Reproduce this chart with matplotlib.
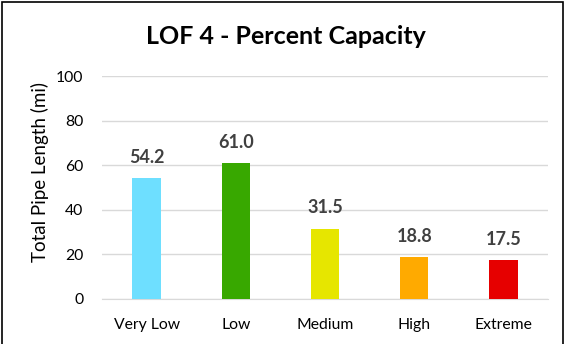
import matplotlib
matplotlib.use("Agg")
import matplotlib.pyplot as plt
from matplotlib.patches import Rectangle

categories = ["Very Low", "Low", "Medium", "High", "Extreme"]
values = [54.2, 61.0, 31.5, 18.8, 17.5]
colors = ["#6EDFFF", "#38A800", "#E6E600", "#FFAA00", "#E60000"]
yticks = [0, 20, 40, 60, 80, 100]

plt.rcParams['font.family'] = ['Lato', 'DejaVu Sans']

fig = plt.figure(figsize=(5.72, 3.44), dpi=100)
ax = fig.add_axes([102 / 572, 1 - 299 / 344, 446 / 572, 223 / 344])

x = range(len(categories))
bars = ax.bar(x, values, width=0.32, color=colors, zorder=3)
for xi, v in zip(x, values):
    ax.text(xi, v + 5.5, f"{v:.1f}", ha="center", va="bottom",
            fontsize=13, fontweight="bold", color="#404040")

ax.set_xlim(-0.5, len(categories) - 0.5)
ax.set_ylim(0, 100)
ax.set_yticks(yticks)
ax.set_xticks(list(x))
ax.set_xticklabels(categories)
ax.tick_params(axis="both", length=0, labelsize=11.3, colors="#000000")
ax.tick_params(axis="y", pad=13.5)
ax.tick_params(axis="x", pad=14)
ax.yaxis.grid(True, color="#D9D9D9", linewidth=1, zorder=0)
for s in ["top", "right", "left"]:
    ax.spines[s].set_visible(False)
ax.spines["bottom"].set_color("#D9D9D9")
ax.set_ylabel("Total Pipe Length (mi)", fontsize=13.5)
ax.yaxis.set_label_coords(40 / 572, 0.5, transform=fig.transFigure)
ax.yaxis.label.set_verticalalignment("center")

fig.text(0.5, 1 - 37 / 344, "LOF 4 - Percent Capacity", ha="center", va="center",
         fontsize=18, fontweight="bold")

fig.patches.append(Rectangle((2 / 572, -0.05), 561 / 572, 1 - 2 / 344 + 0.05,
                             transform=fig.transFigure, fill=False,
                             edgecolor="#000000", linewidth=1.2))

fig.savefig("out.png", dpi=100)
